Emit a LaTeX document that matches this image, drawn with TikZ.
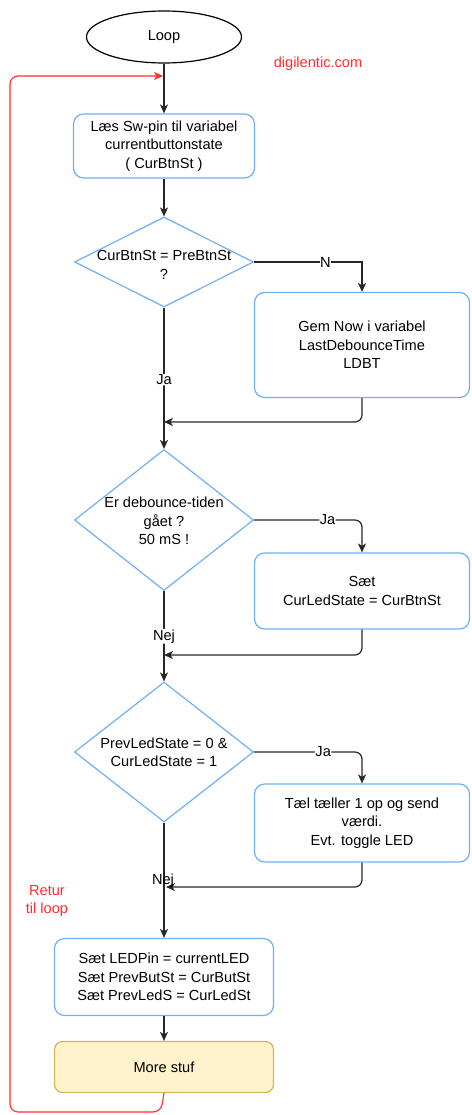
\documentclass[tikz,border=0pt]{standalone}
\usepackage{fontspec}
\setmainfont{Liberation Sans}
\usetikzlibrary{arrows.meta,shapes.geometric}
\definecolor{boxblue}{RGB}{110,175,245}
\definecolor{redline}{RGB}{255,45,45}
\definecolor{yfill}{RGB}{255,242,204}
\definecolor{ydraw}{RGB}{214,182,86}
\tikzset{
  every node/.style={font=\fontsize{14.6}{18.4}\selectfont},
  pbox/.style={draw=boxblue, line width=1.2pt, rounded corners=10pt, align=center, inner sep=0pt},
  dia/.style={draw=boxblue, line width=1.2pt, diamond, inner sep=0pt},
  dtxt/.style={align=center, inner sep=0pt},
  flow/.style={draw=black!85, line width=1.2pt, -{Stealth[length=9pt,width=8pt,inset=2.5pt]}, rounded corners=7pt},
  lbl/.style={fill=white, inner sep=0.5pt},
  rtxt/.style={text=redline, align=center},
}
\begin{document}
\begin{tikzpicture}[x=1pt,y=-1pt]
\useasboundingbox (0,0) rectangle (471,1115);
% nodes
\node[draw=black, line width=1.2pt, ellipse, minimum width=155pt, minimum height=52pt, inner sep=0pt] (loop) at (164,37) {Loop};
\node[rtxt] (web) at (318,64) {digilentic.com};
\node[pbox, minimum width=181pt, minimum height=64pt] (b1) at (164,146) {Læs Sw-pin til variabel\\currentbuttonstate\\( CurBtnSt )};
\node[dia, minimum width=179pt, minimum height=90pt] (d1) at (164,262) {};
\node[dtxt] (d1t) at (164,265) {CurBtnSt = PreBtnSt\\?};
\node[pbox, minimum width=215pt, minimum height=105pt] (b2) at (362,345) {Gem Now i variabel\\LastDebounceTime\\LDBT};
\node[dia, minimum width=179pt, minimum height=141pt] (d2) at (164,520) {};
\node[dtxt] (d2t) at (164,521) {Er debounce-tiden\\gået ?\\50 mS !};
\node[pbox, minimum width=215pt, minimum height=76pt] (b3) at (362,591) {Sæt\\CurLedState = CurBtnSt};
\node[dia, minimum width=179pt, minimum height=140pt] (d3) at (164,752) {};
\node[dtxt] (d3t) at (164,752) {PrevLedState = 0 \&\\CurLedState = 1};
\node[pbox, minimum width=215pt, minimum height=78pt] (b4) at (362,823) {Tæl tæller 1 op og send\\værdi.\\Evt. toggle LED};
\node[pbox, minimum width=219pt, minimum height=77pt] (b5) at (164,977) {Sæt LEDPin = currentLED\\Sæt PrevButSt = CurButSt\\Sæt PrevLedS = CurLedSt};
\node[draw=ydraw, fill=yfill, line width=1.2pt, rounded corners=8pt, minimum width=219pt, minimum height=51pt, inner sep=0pt] (b6) at (164,1067) {More stuf};
\node[rtxt] (ret) at (47,901) {Retur\\til loop};
% junction coordinates
\coordinate (j1) at (164,422);
\coordinate (j2) at (164,655);
\coordinate (j3) at (166,887);
\coordinate (r0) at (161,1112);
\coordinate (r1) at (10,1112);
\coordinate (r2) at (10,76);
\coordinate (r3) at (163,76);
% connectors
\draw[flow] (loop.south) -- (b1.north);
\draw[flow] (b1.south) -- (d1.north);
\draw[flow, rounded corners=0pt] (d1.east) -- node[lbl, pos=0.66] {N} (b2.north |- d1.east) -- (b2.north);
\draw[flow] (d1.south) -- node[lbl, pos=0.51] {Ja} (d2.north);
\draw[flow] (b2.south) |- (j1);
\draw[flow] (d2.east) -- node[lbl, pos=0.68] {Ja} (b3.north |- d2.east) -- (b3.north);
\draw[flow] (d2.south) -- node[lbl, pos=0.5] {Nej} (d3.north);
\draw[flow] (b3.south) |- (j2);
\draw[flow] (d3.east) -- node[lbl, pos=0.64] {Ja} (b4.north |- d3.east) -- (b4.north);
\draw[flow] (d3.south) -- (b5.north);
\draw[flow] (b4.south) |- (j3);
\node[lbl, fill=none] (nej2) at (163,881) {Nej};
\draw[flow] (b5.south) -- (b6.north);
\draw[draw=redline, line width=1.1pt, rounded corners=8pt, -{Stealth[length=9pt,width=8pt,inset=2.5pt]}] (b6.south) -- (r0) -- (r1) -- (r2) -- (r3);
\end{tikzpicture}
\end{document}
